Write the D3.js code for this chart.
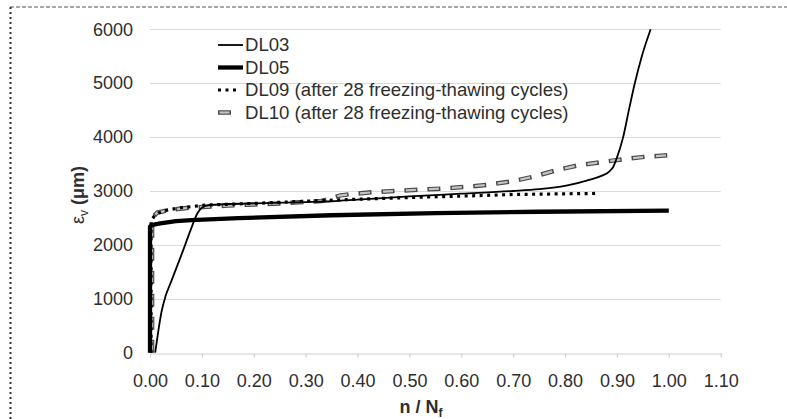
<!DOCTYPE html>
<html>
<head>
<meta charset="utf-8">
<script src="https://cdn.jsdelivr.net/npm/d3@7"></script>
<style>
  html, body { margin: 0; padding: 0; background: #ffffff; }
  svg { display: block; }
  text { font-family: "Liberation Sans", Arial, sans-serif; }
</style>
</head>
<body>
<svg id="chart" width="787" height="419"></svg>
<script>
// ---- data ----
const xTicks = [0, 0.1, 0.2, 0.3, 0.4, 0.5, 0.6, 0.7, 0.8, 0.9, 1.0, 1.1];
const yTicks = [0, 1000, 2000, 3000, 4000, 5000, 6000];
const seriesNames = ["DL03", "DL05", "DL09 (after 28 freezing-thawing cycles)", "DL10 (after 28 freezing-thawing cycles)"];

const dl03 = [[0.010,0],[0.016,400],[0.022,750],[0.030,1050],[0.040,1300],[0.050,1550],[0.060,1800],
  [0.070,2060],[0.080,2320],[0.090,2560],[0.100,2690],[0.115,2740],[0.2,2770],[0.3,2795],[0.35,2810],
  [0.4,2840],[0.5,2900],[0.6,2950],[0.7,3000],[0.75,3035],[0.8,3095],[0.85,3215],[0.87,3280],
  [0.885,3360],[0.893,3450],[0.9,3620],[0.912,4000],[0.923,4500],[0.934,4980],[0.948,5500],[0.965,6000]];

const dl05 = [[0.0,0],[0.0,2340],[0.005,2370],[0.02,2400],[0.05,2440],[0.08,2460],[0.17,2495],
  [0.35,2550],[0.55,2590],[0.75,2615],[1.0,2635]];

const dl09 = [[0.002,0],[0.002,2450],[0.008,2530],[0.016,2590],[0.032,2645],[0.06,2690],[0.109,2740],
  [0.2,2770],[0.366,2835],[0.5,2880],[0.6,2905],[0.7,2935],[0.8,2948],[0.86,2955]];

const dl10 = [[0.004,0],[0.004,2500],[0.014,2600],[0.039,2650],[0.077,2690],[0.15,2730],[0.25,2770],
  [0.33,2815],[0.345,2850],[0.365,2915],[0.385,2940],[0.427,2975],[0.472,3000],[0.517,3024],
  [0.562,3045],[0.607,3075],[0.652,3117],[0.697,3177],[0.739,3265],[0.78,3377],[0.822,3470],
  [0.867,3532],[0.915,3594],[0.957,3637],[0.997,3662]];

// ---- layout ----
const svg = d3.select("#chart");
const x = d3.scaleLinear().domain([0, 1.1]).range([150, 720.7]);
const y = d3.scaleLinear().domain([0, 6000]).range([352.7, 29.3]);
const textColor = "#2e2e2e";
const fontSize = 18;

// page border (dashed top, dotted left)
svg.append("line").attr("x1", 10).attr("x2", 787).attr("y1", 7).attr("y2", 7)
  .attr("stroke", "#555").attr("stroke-width", 1.2).attr("stroke-dasharray", "4,2");
svg.append("line").attr("x1", 10.5).attr("x2", 10.5).attr("y1", 7).attr("y2", 419)
  .attr("stroke", "#333").attr("stroke-width", 2).attr("stroke-dasharray", "2,3");

// gridlines
svg.append("g").selectAll("line").data(yTicks.filter(d => d > 0)).join("line")
  .attr("x1", x(0)).attr("x2", x(1.1))
  .attr("y1", d => Math.round(y(d)) + 0.5).attr("y2", d => Math.round(y(d)) + 0.5)
  .attr("stroke", "#d9d9d9").attr("stroke-width", 1.2);

// x axis
const xAxis = d3.axisBottom(x).tickValues(xTicks).tickFormat(d3.format(".2f"))
  .tickSizeInner(4).tickSizeOuter(0).tickPadding(17);
const gx = svg.append("g").attr("transform", `translate(0,${Math.round(y(0)) + 0.5})`).call(xAxis);
gx.select(".domain").attr("stroke", "#d0d0d0").attr("stroke-width", 1.2);
gx.selectAll(".tick line").attr("stroke", "#d0d0d0").attr("stroke-width", 1.2);
gx.selectAll(".tick text").attr("font-size", fontSize).attr("fill", textColor)
  .attr("font-family", "Liberation Sans, Arial, sans-serif");

// y axis (labels only)
const yAxis = d3.axisLeft(y).tickValues(yTicks).tickFormat(d3.format("d"))
  .tickSize(0).tickPadding(17);
const gy = svg.append("g").attr("transform", `translate(${x(0)},0)`).call(yAxis);
gy.select(".domain").remove();
gy.selectAll(".tick text").attr("font-size", fontSize).attr("fill", textColor)
  .attr("font-family", "Liberation Sans, Arial, sans-serif");

// series lines
const line = d3.line().x(d => x(d[0])).y(d => y(d[1]));
const smoothLine = d3.line().x(d => x(d[0])).y(d => y(d[1])).curve(d3.curveMonotoneX);
const plot = svg.append("g");

// DL10 dashed (dark outline with grey inside)
plot.append("path").datum(dl10).attr("d", line).attr("fill", "none")
  .attr("stroke", "#4a4a4a").attr("stroke-width", 4.5).attr("stroke-dasharray", "13,10");
plot.append("path").datum(dl10).attr("d", line).attr("fill", "none")
  .attr("stroke", "#c4c4c4").attr("stroke-width", 2.2).attr("stroke-dasharray", "10,13")
  .attr("stroke-dashoffset", -1.5);
// DL09 dotted
plot.append("path").datum(dl09).attr("d", line).attr("fill", "none")
  .attr("stroke", "#000").attr("stroke-width", 3.2).attr("stroke-dasharray", "3,4.5");
// DL05 thick
plot.append("path").datum(dl05).attr("d", line).attr("fill", "none")
  .attr("stroke", "#000").attr("stroke-width", 4.3).attr("stroke-linejoin", "round");
// DL03 thin
plot.append("path").datum(dl03).attr("d", smoothLine).attr("fill", "none")
  .attr("stroke", "#000").attr("stroke-width", 1.8).attr("stroke-linejoin", "round");

// legend
const legendX1 = 218, legendX2 = 243, legendTextX = 245;
const legendY = [45, 67.5, 90, 112.5];
const lg = svg.append("g");
lg.append("line").attr("x1", legendX1).attr("x2", legendX2).attr("y1", legendY[0]).attr("y2", legendY[0])
  .attr("stroke", "#000").attr("stroke-width", 1.8);
lg.append("line").attr("x1", legendX1).attr("x2", legendX2).attr("y1", legendY[1]).attr("y2", legendY[1])
  .attr("stroke", "#000").attr("stroke-width", 4.3);
lg.append("line").attr("x1", legendX1).attr("x2", legendX2 - 3).attr("y1", legendY[2]).attr("y2", legendY[2])
  .attr("stroke", "#000").attr("stroke-width", 3.2).attr("stroke-dasharray", "3,4.5");
lg.append("line").attr("x1", legendX1).attr("x2", legendX1 + 13).attr("y1", legendY[3]).attr("y2", legendY[3])
  .attr("stroke", "#4a4a4a").attr("stroke-width", 4.5);
lg.append("line").attr("x1", legendX1 + 1.5).attr("x2", legendX1 + 11.5).attr("y1", legendY[3]).attr("y2", legendY[3])
  .attr("stroke", "#c4c4c4").attr("stroke-width", 2.2);
lg.selectAll("text").data(seriesNames).join("text")
  .attr("x", legendTextX).attr("y", (d, i) => legendY[i] + 6.4)
  .attr("font-size", 18.6).attr("fill", textColor).text(d => d);

// axis titles
const xt = svg.append("text").attr("x", 421).attr("y", 413).attr("text-anchor", "middle")
  .attr("font-size", fontSize).attr("font-weight", "bold").attr("fill", textColor);
xt.append("tspan").text("n / N");
xt.append("tspan").attr("dy", 4).attr("font-size", 12).text("f");

const yt = svg.append("text").attr("transform", "translate(84,195) rotate(-90)")
  .attr("text-anchor", "middle").attr("font-size", fontSize).attr("font-weight", "bold").attr("fill", textColor);
yt.append("tspan").attr("font-weight", "normal").text("ε");
yt.append("tspan").attr("dy", 4).attr("font-size", 12).attr("font-weight", "normal").text("v");
yt.append("tspan").attr("dy", -4).text(" (μm)");
</script>
</body>
</html>
